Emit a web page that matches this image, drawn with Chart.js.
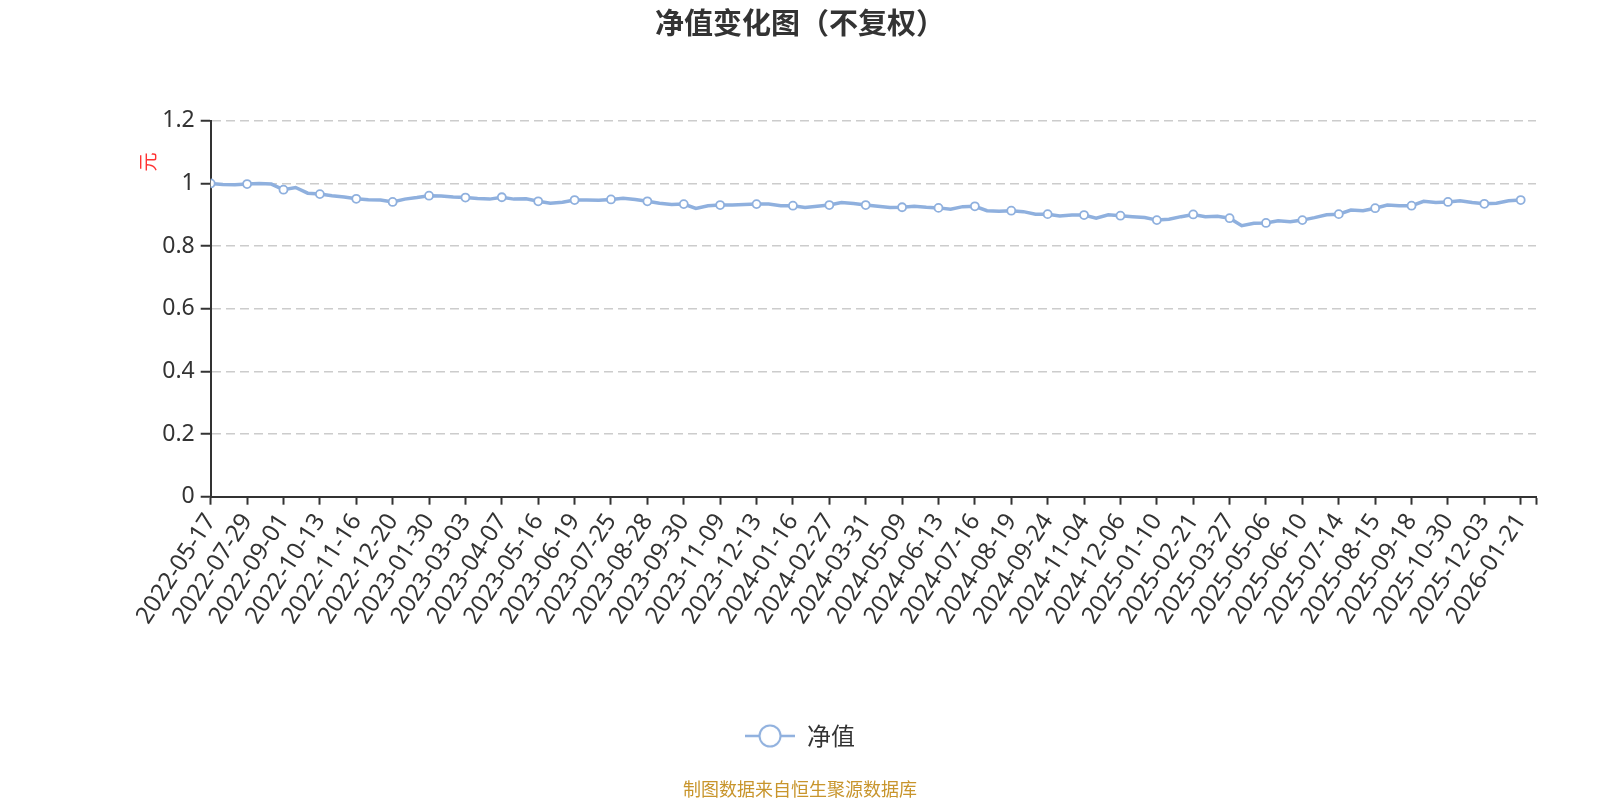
<!DOCTYPE html>
<html>
<head>
<meta charset="utf-8">
<script src="https://cdn.jsdelivr.net/npm/chart.js@4.4.1/dist/chart.umd.min.js"></script>
<style>
html,body{margin:0;padding:0;background:#fff;}
#wrap{width:1600px;height:800px;position:relative;}
</style>
</head>
<body>
<div id="wrap"><canvas id="c" width="1600" height="800"></canvas></div>
<script>
// ---- DATA ----
const tickDates = ['2022-05-17','2022-07-29','2022-09-01','2022-10-13','2022-11-16','2022-12-20','2023-01-30','2023-03-03','2023-04-07','2023-05-16','2023-06-19','2023-07-25','2023-08-28','2023-09-30','2023-11-09','2023-12-13','2024-01-16','2024-02-27','2024-03-31','2024-05-09','2024-06-13','2024-07-16','2024-08-19','2024-09-24','2024-11-04','2024-12-06','2025-01-10','2025-02-21','2025-03-27','2025-05-06','2025-06-10','2025-07-14','2025-08-15','2025-09-18','2025-10-30','2025-12-03','2026-01-21'];
const tickValues = [1.000,0.998,0.980,0.966,0.951,0.941,0.961,0.955,0.956,0.943,0.947,0.949,0.943,0.934,0.931,0.934,0.929,0.931,0.931,0.924,0.922,0.927,0.913,0.902,0.899,0.897,0.883,0.901,0.889,0.874,0.883,0.902,0.921,0.929,0.941,0.935,0.947];
// values between consecutive labelled dates
const midValues = [[0.997,0.996],[1.000,0.998],[0.987,0.969],[0.961,0.957],[0.948,0.947],[0.950,0.955],[0.960,0.957],[0.952,0.950],[0.950,0.951],[0.937,0.940],[0.947,0.946],[0.953,0.949],[0.937,0.933],[0.920,0.929],[0.931,0.933],[0.934,0.929],[0.923,0.927],[0.939,0.936],[0.927,0.923],[0.927,0.924],[0.918,0.926],[0.913,0.911],[0.910,0.902],[0.896,0.899],[0.889,0.900],[0.894,0.891],[0.886,0.894],[0.894,0.895],[0.865,0.873],[0.881,0.878],[0.891,0.900],[0.915,0.913],[0.931,0.929],[0.943,0.939],[0.945,0.939],[0.937,0.945]];
const yTicks = [0,0.2,0.4,0.6,0.8,1,1.2];
const seriesName = '净值';

// ---- build points ----
const STEP = 3;
const points = [];
const radii = [];
tickValues.forEach((v,i)=>{
  points.push({x:i*STEP, y:v}); radii.push(4);
  if (i < midValues.length) {
    midValues[i].forEach((m,j)=>{ points.push({x:i*STEP+j+1, y:m}); radii.push(0); });
  }
});
const xMax = (tickDates.length-1)*STEP + 1.26;

const lineColor = '#8fb0de';

// legend icon
const icon = document.createElement('canvas');
icon.width = 50; icon.height = 26;
(function(){
  const g = icon.getContext('2d');
  g.strokeStyle = lineColor; g.lineWidth = 2.5;
  g.beginPath(); g.moveTo(0,13); g.lineTo(50,13); g.stroke();
  g.beginPath(); g.arc(25,13,10.5,0,Math.PI*2); g.fillStyle='#fff'; g.fill();
  g.lineWidth = 2; g.stroke();
})();

const yTitlePlugin = {
  id:'yTitle',
  afterDraw(chart){
    const ctx = chart.ctx;
    ctx.save();
    ctx.translate(148,162);
    ctx.rotate(-Math.PI/2);
    ctx.fillStyle = '#ff3333';
    ctx.font = '19px "Noto Sans CJK SC"';
    ctx.textAlign='center'; ctx.textBaseline='middle';
    ctx.fillText('元',0,0);
    ctx.restore();
  }
};

new Chart(document.getElementById('c'), {
  type:'line',
  data:{
    datasets:[{
      label: seriesName,
      data: points,
      borderColor: lineColor,
      backgroundColor: '#fff',
      borderWidth: 3.5,
      pointRadius: radii,
      pointHoverRadius: radii,
      pointBorderWidth: 1.8,
      pointBorderColor: lineColor,
      pointBackgroundColor: '#fff',
      pointStyle: 'circle',
      tension: 0,
      fill:false
    }]
  },
  plugins:[yTitlePlugin],
  options:{
    responsive:false,
    animation:false,
    devicePixelRatio:1,
    layout:{padding:{left:64,right:64,top:0,bottom:0}},
    plugins:{
      title:{display:true,text:'净值变化图（不复权）',color:'#333',
        font:{family:'"Noto Sans CJK SC"',size:29,weight:'bold'},
        padding:{top:6,bottom:80}},
      subtitle:{display:true,position:'bottom',text:'制图数据来自恒生聚源数据库',color:'#c8952c',
        font:{family:'"Noto Sans CJK SC"',size:18,weight:'normal'},
        padding:{top:20.5,bottom:0}},
      legend:{display:true,position:'bottom',
        labels:{usePointStyle:true,pointStyleWidth:50,padding:10,color:'#333',
          font:{family:'"Noto Sans CJK SC"',size:24},
          generateLabels(chart){
            return [{text:seriesName,pointStyle:icon,fillStyle:'#fff',strokeStyle:lineColor,lineWidth:0,datasetIndex:0,hidden:false,fontColor:'#333'}];
          }}},
      tooltip:{enabled:false}
    },
    scales:{
      x:{
        type:'linear',
        min:0, max:xMax,
        afterBuildTicks(scale){
          const t = tickDates.map((d,i)=>({value:i*STEP}));
          t.push({value:xMax});
          scale.ticks = t;
        },
        afterFit(scale){ scale.height = 217.2; },
        ticks:{
          autoSkip:false, maxRotation:57, minRotation:57, padding:4,
          color:'#333', font:{family:'"Noto Sans"',size:24},
          callback(v){ const i = v/STEP; return Number.isInteger(i) && tickDates[i] ? tickDates[i] : ''; }
        },
        grid:{drawOnChartArea:false,drawTicks:true,tickLength:8,tickColor:'#333',tickWidth:2},
        border:{display:true,color:'#333',width:2}
      },
      y:{
        min:0,max:1.2,
        afterBuildTicks(scale){ scale.ticks = yTicks.map(v=>({value:v})); },
        afterFit(scale){ scale.width = 146.7; },
        ticks:{color:'#333',padding:6,font:{family:'"Noto Sans"',size:23},
          callback(v){ return String(Math.round(v*10)/10); }},
        grid:{color:'#cccccc',lineWidth:1.5,drawTicks:true,tickLength:10,tickColor:'#333',tickWidth:2,tickBorderDash:[]},
        border:{display:true,color:'#333',width:2,dash:[9,5]}
      }
    }
  }
});
</script>
</body>
</html>
